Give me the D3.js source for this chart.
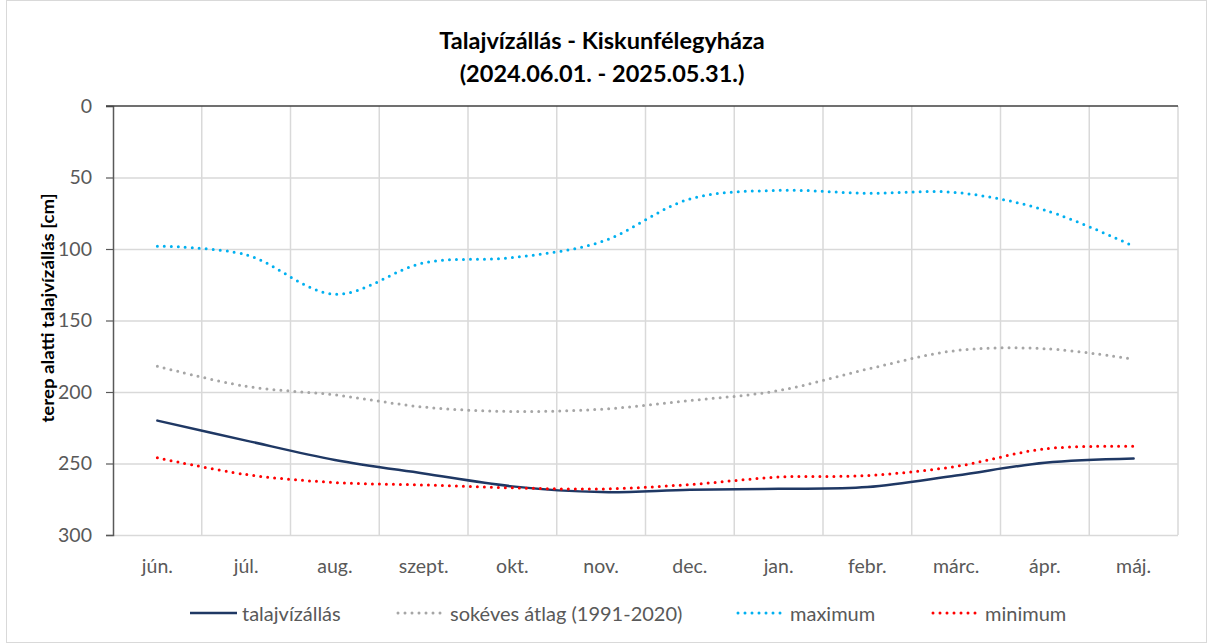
<!DOCTYPE html>
<html>
<head>
<meta charset="utf-8">
<script src="https://cdn.jsdelivr.net/npm/d3@7"></script>
<style>
  body { margin: 0; background: #fff; }
  svg { font-family: Lato, "Noto Sans", sans-serif; }
</style>
</head>
<body>
<script>
const months = ["jún.", "júl.", "aug.", "szept.", "okt.", "nov.", "dec.", "jan.", "febr.", "márc.", "ápr.", "máj."];
const talajviz = [220, 234, 247.5, 257, 266, 270, 268.4, 267.7, 266.5, 258.4, 249.5, 246.5];
const sokeves = [182, 196, 202, 210.5, 213.6, 212, 206, 199, 184, 171, 169.7, 177];
const maximum = [98, 104, 131.6, 109.7, 106, 95, 65, 59, 61, 60.5, 72.8, 98];
const minimum = [246, 257.7, 263.3, 265, 267, 267.8, 264.7, 259.5, 258.4, 252, 239.7, 238];
const yTicks = [0, 50, 100, 150, 200, 250, 300];

const series = [
  { name: "talajvízállás", values: talajviz, color: "#1f3864", dotted: false },
  { name: "sokéves átlag (1991-2020)", values: sokeves, color: "#a6a6a6", dotted: true },
  { name: "maximum", values: maximum, color: "#00b0f0", dotted: true },
  { name: "minimum", values: minimum, color: "#ff0000", dotted: true }
];

const width = 1211, height = 644;
const margin = { top: 106, right: 33, bottom: 109, left: 113 };

const svg = d3.select("body").append("svg")
    .attr("width", width)
    .attr("height", height);

// chart border
svg.append("rect")
    .attr("x", 6.5).attr("y", 0.5)
    .attr("width", 1200).attr("height", 642)
    .attr("fill", "none")
    .attr("stroke", "#d9d9d9");

const x = d3.scaleBand()
    .domain(months)
    .range([margin.left, width - margin.right]);

const y = d3.scaleLinear()
    .domain([0, 300])
    .range([margin.top, height - margin.bottom]);

// horizontal gridlines
svg.append("g")
    .selectAll("line")
    .data(yTicks.filter(d => d > 0))
    .join("line")
    .attr("x1", margin.left).attr("x2", width - margin.right)
    .attr("y1", d => y(d) + 0.5).attr("y2", d => y(d) + 0.5)
    .attr("stroke", "#d9d9d9")
    .attr("stroke-width", 1.5);

// vertical gridlines at category boundaries
svg.append("g")
    .selectAll("line")
    .data(months.slice(1).concat(["end"]))
    .join("line")
    .attr("x1", (d, i) => i < months.length - 1 ? x(d) : x.range()[1])
    .attr("x2", (d, i) => i < months.length - 1 ? x(d) : x.range()[1])
    .attr("y1", margin.top).attr("y2", y(300))
    .attr("stroke", "#d9d9d9")
    .attr("stroke-width", 1.5);

// y axis
const yAxis = svg.append("g")
    .attr("transform", `translate(${margin.left},0)`)
    .call(d3.axisLeft(y).tickValues(yTicks).tickSize(7).tickPadding(14));
yAxis.select(".domain").attr("stroke", "#595959").attr("stroke-width", 1.5);
yAxis.selectAll(".tick line").attr("stroke", "#595959").attr("stroke-width", 1.2);
yAxis.selectAll(".tick text")
    .attr("fill", "#595959")
    .style("font-size", "19.5px")
    .style("font-family", "Lato, 'Noto Sans', sans-serif");

// category axis line at the top (value 0)
svg.append("line")
    .attr("x1", margin.left - 7).attr("x2", width - margin.right)
    .attr("y1", y(0)).attr("y2", y(0))
    .attr("stroke", "#404040")
    .attr("stroke-width", 1.5);

// month labels below the plot
svg.append("g")
    .selectAll("text")
    .data(months)
    .join("text")
    .attr("x", d => x(d) + x.bandwidth() / 2)
    .attr("y", 573)
    .attr("text-anchor", "middle")
    .attr("fill", "#595959")
    .style("font-size", "19.5px")
    .text(d => d);

// lines
const line = d3.line()
    .x((d, i) => x(months[i]) + x.bandwidth() / 2)
    .y(d => y(d))
    .curve(d3.curveCatmullRom.alpha(0.5));

svg.append("g")
    .selectAll("path")
    .data(series)
    .join("path")
    .attr("d", d => line(d.values))
    .attr("fill", "none")
    .attr("stroke", d => d.color)
    .attr("stroke-width", d => d.dotted ? 3 : 2.5)
    .attr("stroke-linecap", "round")
    .attr("stroke-dasharray", d => d.dotted ? "0 7" : null);

// title
svg.append("text")
    .attr("x", 602).attr("y", 49)
    .attr("text-anchor", "middle")
    .style("font-size", "23.5px").style("font-weight", "bold")
    .attr("fill", "#000")
    .text("Talajvízállás - Kiskunfélegyháza");
svg.append("text")
    .attr("x", 602).attr("y", 82)
    .attr("text-anchor", "middle")
    .style("font-size", "23.5px").style("font-weight", "bold")
    .attr("fill", "#000")
    .text("(2024.06.01. - 2025.05.31.)");

// y axis title
svg.append("text")
    .attr("transform", `translate(54,308) rotate(-90)`)
    .attr("text-anchor", "middle")
    .attr("textLength", 229)
    .attr("lengthAdjust", "spacingAndGlyphs")
    .style("font-size", "17px").style("font-weight", "bold")
    .attr("fill", "#000")
    .text("terep alatti talajvízállás [cm]");

// legend
const legendX = [190, 396, 736, 931];
const legend = svg.append("g")
    .selectAll("g")
    .data(series)
    .join("g")
    .attr("transform", (d, i) => `translate(${legendX[i]},613)`);
legend.append("line")
    .attr("x1", d => d.dotted ? 2 : 0).attr("x2", d => d.dotted ? 46 : 47)
    .attr("stroke", d => d.color)
    .attr("stroke-width", d => d.dotted ? 3 : 2.5)
    .attr("stroke-linecap", d => d.dotted ? "round" : "butt")
    .attr("stroke-dasharray", d => d.dotted ? "0 7" : null);
legend.append("text")
    .attr("x", d => d.dotted ? 54 : 52)
    .attr("y", 8)
    .attr("fill", "#595959")
    .style("font-size", "20px")
    .text(d => d.name);
</script>
</body>
</html>
